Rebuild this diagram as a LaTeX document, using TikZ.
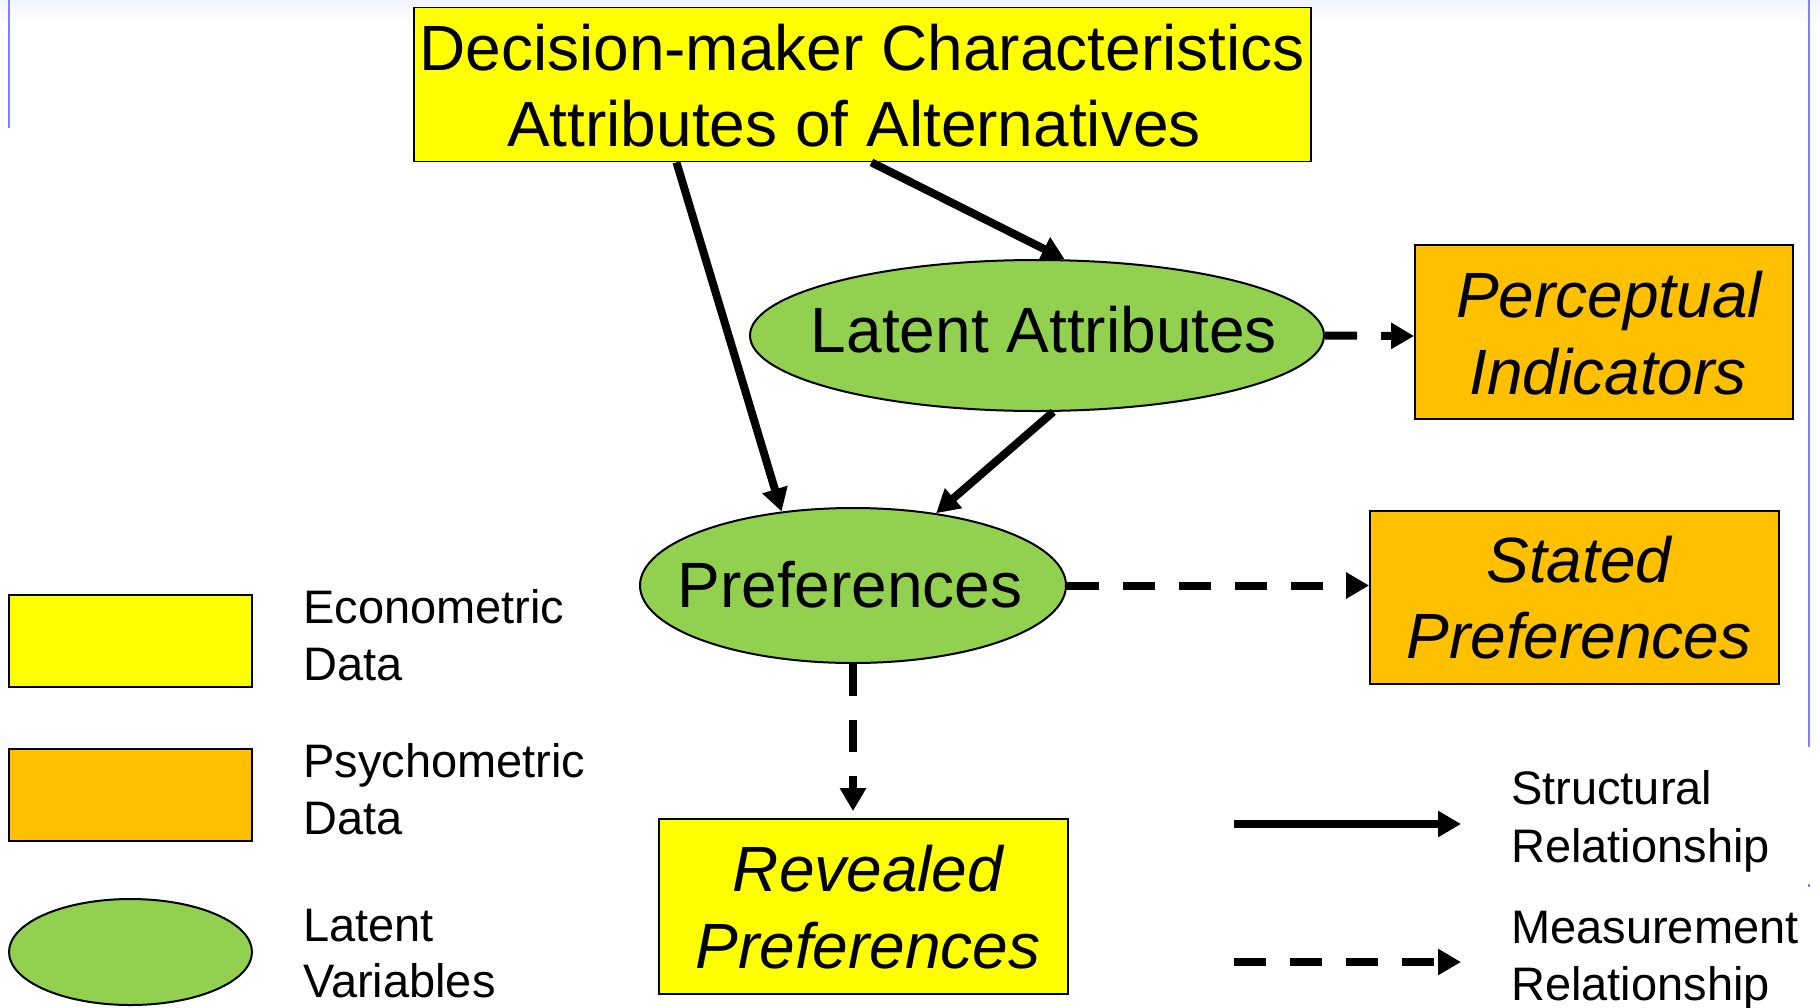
\documentclass[tikz,border=0pt]{standalone}
\usepackage{fontspec}
\setmainfont{Liberation Sans}
\usetikzlibrary{arrows.meta,shapes.geometric,calc}
\definecolor{cyel}{HTML}{FFFF00}
\definecolor{corg}{HTML}{FFC000}
\definecolor{cgrn}{HTML}{92D050}
\definecolor{cblu}{HTML}{8080FF}
\definecolor{cband}{HTML}{F2F5FE}
\begin{document}
\begin{tikzpicture}[x=1pt,y=-1pt,
  box/.style={draw=black,line width=1.8pt,rectangle,inner sep=0pt},
  ell/.style={draw=black,line width=2pt,ellipse,inner sep=0pt,fill=cgrn},
  big/.style={font=\fontsize{64}{76}\selectfont,inner sep=0pt,anchor=base},
  bigit/.style={font=\fontsize{64}{76}\selectfont\itshape,inner sep=0pt,anchor=base},
  small/.style={font=\fontsize{47}{57}\selectfont,inner sep=0pt,anchor=base west},
  struct/.style={line width=8pt,-{Triangle[length=23pt,width=25pt]}},
  meas/.style={line width=8pt,dash pattern=on 32pt off 24pt,-{Triangle[length=23pt,width=25pt]}},
  blueline/.style={draw=cblu,line width=2pt}
]
\useasboundingbox (0,0) rectangle (1820,1007);
\fill[white] (0,0) rectangle (1820,1007);
\shade[top color=cband,bottom color=white] (0,0) rectangle (1820,23);
\draw[blueline] (9,0) -- (9,128);
\draw[blueline] (1809,0) -- (1809,747);
\fill[cblu] (1808,884) rectangle (1810,887);

% main shapes
\node[box,fill=cyel,minimum width=897pt,minimum height=154pt] (top) at (862.5,84.5) {};
\node[ell,minimum width=574pt,minimum height=151pt] (la) at (1037,335.5) {};
\node[box,fill=corg,minimum width=378pt,minimum height=174pt] (pi) at (1604,332) {};
\node[ell,minimum width=426pt,minimum height=155pt] (pref) at (853,585.5) {};
\node[box,fill=corg,minimum width=409pt,minimum height=173pt] (st) at (1574.5,597.5) {};
\node[box,fill=cyel,minimum width=409pt,minimum height=175pt] (rp) at (863.5,906.5) {};

% main texts
\node[big] (t1) at (862,70) {Decision-maker Characteristics};
\node[big] (t2) at (854,146) {Attributes of Alternatives};
\node[big] (tla) at (1044,352) {Latent Attributes};
\node[big] (tpref) at (850,607) {Preferences};
\node[bigit] (tpi1) at (1609,317) {Perceptual};
\node[bigit] (tpi2) at (1608,394) {Indicators};
\node[bigit] (tst1) at (1579,582) {Stated};
\node[bigit] (tst2) at (1579,658) {Preferences};
\node[bigit] (trp1) at (868,891) {Revealed};
\node[bigit] (trp2) at (868,968) {Preferences};

% connectors
\draw[struct] ($(top.south)+(-186,0)$) -- (pref.134);
\draw[struct] ($(top.south)+(9,0)$) -- (la.70.5);
\draw[struct] (la.-78) -- (pref.41.5);
\draw[meas] (la.east) -- ($(pi.west)+(0,4)$);
\draw[meas] (pref.east) -- (st.west |- pref.east);
\draw[meas,shorten >=7pt] (pref.south) -- (pref.south |- rp.north);

% legend
\node[box,fill=cyel,minimum width=243pt,minimum height=92pt] (lg1) at (130.5,641) {};
\node[box,fill=corg,minimum width=243pt,minimum height=92pt] (lg2) at (130.5,795) {};
\node[ell,minimum width=243pt,minimum height=106pt] (lg3) at (130.5,952) {};
\node[small] (l1a) at (303,623) {Econometric};
\node[small] (l1b) at (303,680) {Data};
\node[small] (l2a) at (303,777) {Psychometric};
\node[small] (l2b) at (303,834) {Data};
\node[small] (l3a) at (303,941) {Latent};
\node[small] (l3b) at (303,997) {Variables};

\coordinate (sa) at (1234,824);
\coordinate (sb) at (1461,824);
\coordinate (ma) at (1234,962);
\coordinate (mb) at (1461,962);
\draw[struct] (sa) -- (sb);
\draw[meas] (ma) -- (mb);
\node[small] (r1a) at (1511,804) {Structural};
\node[small] (r1b) at (1511,862) {Relationship};
\node[small] (r2a) at (1511,943) {Measurement};
\node[small] (r2b) at (1511,1000) {Relationship};
\end{tikzpicture}
\end{document}
